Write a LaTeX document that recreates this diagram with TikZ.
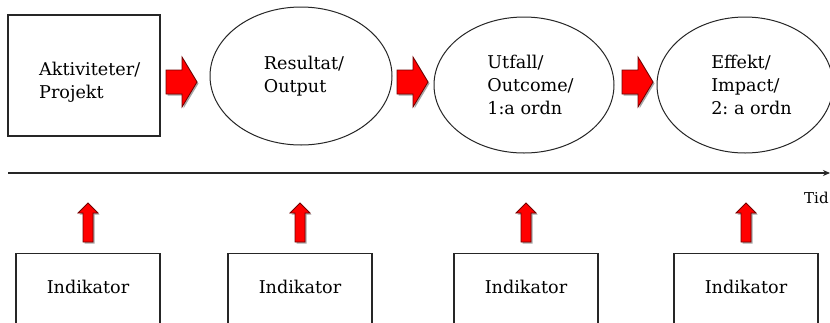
\documentclass[tikz,border=0pt]{standalone}
\usepackage{fontspec}
\setmainfont{DejaVu Serif}
\usetikzlibrary{shapes.geometric,arrows.meta}
\frenchspacing
\begin{document}
\begin{tikzpicture}[x=1pt,y=-1pt,
  font=\fontsize{17.6}{23}\selectfont,
  box/.style={draw=black!85, line width=1.3pt, inner sep=0pt, align=left},
  oval/.style={ellipse, draw=black!85, line width=1pt, inner sep=0pt, align=left},
  ibox/.style={draw=black!85, line width=1.3pt, anchor=north, minimum width=144pt, minimum height=100pt, inner sep=0pt, text height=13pt, text depth=33pt},
  blockarrow/.style={fill=red, draw=red!45!black, line width=0.8pt, line join=miter},
  shadowarrow/.style={fill=black!35, draw=none},
  rarr/.pic={
    \fill[shadowarrow] (1.5,-10.5) -- (17.5,-10.5) -- (17.5,-23.5) -- (32.5,1.5) -- (17.5,26.5) -- (17.5,13.5) -- (1.5,13.5) -- cycle;
    \filldraw[blockarrow] (0,-12) -- (16,-12) -- (16,-25) -- (31,0) -- (16,25) -- (16,12) -- (0,12) -- cycle;
  },
  uarr/.pic={
    \fill[shadowarrow] (-3.5,1.5) -- (-3.5,-27.5) -- (-8.5,-27.5) -- (1.5,-37.5) -- (11.5,-27.5) -- (6.5,-27.5) -- (6.5,1.5) -- cycle;
    \filldraw[blockarrow] (-5,0) -- (-5,-29) -- (-10,-29) -- (0,-39) -- (10,-29) -- (5,-29) -- (5,0) -- cycle;
  }]
\clip (0,0) rectangle (830,322);
\fill[white] (0,0) rectangle (830,322);

% top row
\node[box, minimum width=152pt, minimum height=121pt] (akt) at (84,75.5) {};
\node[align=left, inner sep=0pt, anchor=west] (akttext) at (39,82) {Aktiviteter/\\Projekt};
\node[oval, minimum width=182pt, minimum height=138pt] (res) at (301,76) {\hspace*{6pt}Resultat/\\\hspace*{6pt}Output};
\node[oval, minimum width=180pt, minimum height=136pt] (utf) at (524,85) {\hspace*{13pt}Utfall/\\\hspace*{13pt}Outcome/\\\hspace*{13pt}1:a ordn};
\node[oval, minimum width=176pt, minimum height=136pt] (eff) at (745,85) {\hspace*{13pt}Effekt/\\\hspace*{13pt}Impact/\\\hspace*{13pt}2: a ordn};

% block arrows between stages
\coordinate (r1) at (166,82);
\coordinate (r2) at (397,82);
\coordinate (r3) at (622,82);
\pic at (r1) {rarr};
\pic at (r2) {rarr};
\pic at (r3) {rarr};

% timeline
\coordinate (tstart) at (8,173);
\coordinate (tend) at (830,173);
\draw[line width=1.8pt, black!85, -{Stealth[length=7pt,width=6pt]}] (tstart) -- (tend);
\node[font=\fontsize{15}{17}\selectfont, anchor=base west, inner sep=0pt] (tid) at (804,203) {Tid};

% indicator boxes
\node[ibox] (ind1) at (88,253) {Indikator};
\node[ibox] (ind2) at (300,253) {Indikator};
\node[ibox] (ind3) at (526,253) {Indikator};
\node[ibox] (ind4) at (746,253) {Indikator};

% up arrows
\pic at ([yshift=11pt]ind1.north) {uarr};
\pic at ([yshift=11pt]ind2.north) {uarr};
\pic at ([yshift=11pt]ind3.north) {uarr};
\pic at ([yshift=11pt]ind4.north) {uarr};
\end{tikzpicture}
\end{document}
